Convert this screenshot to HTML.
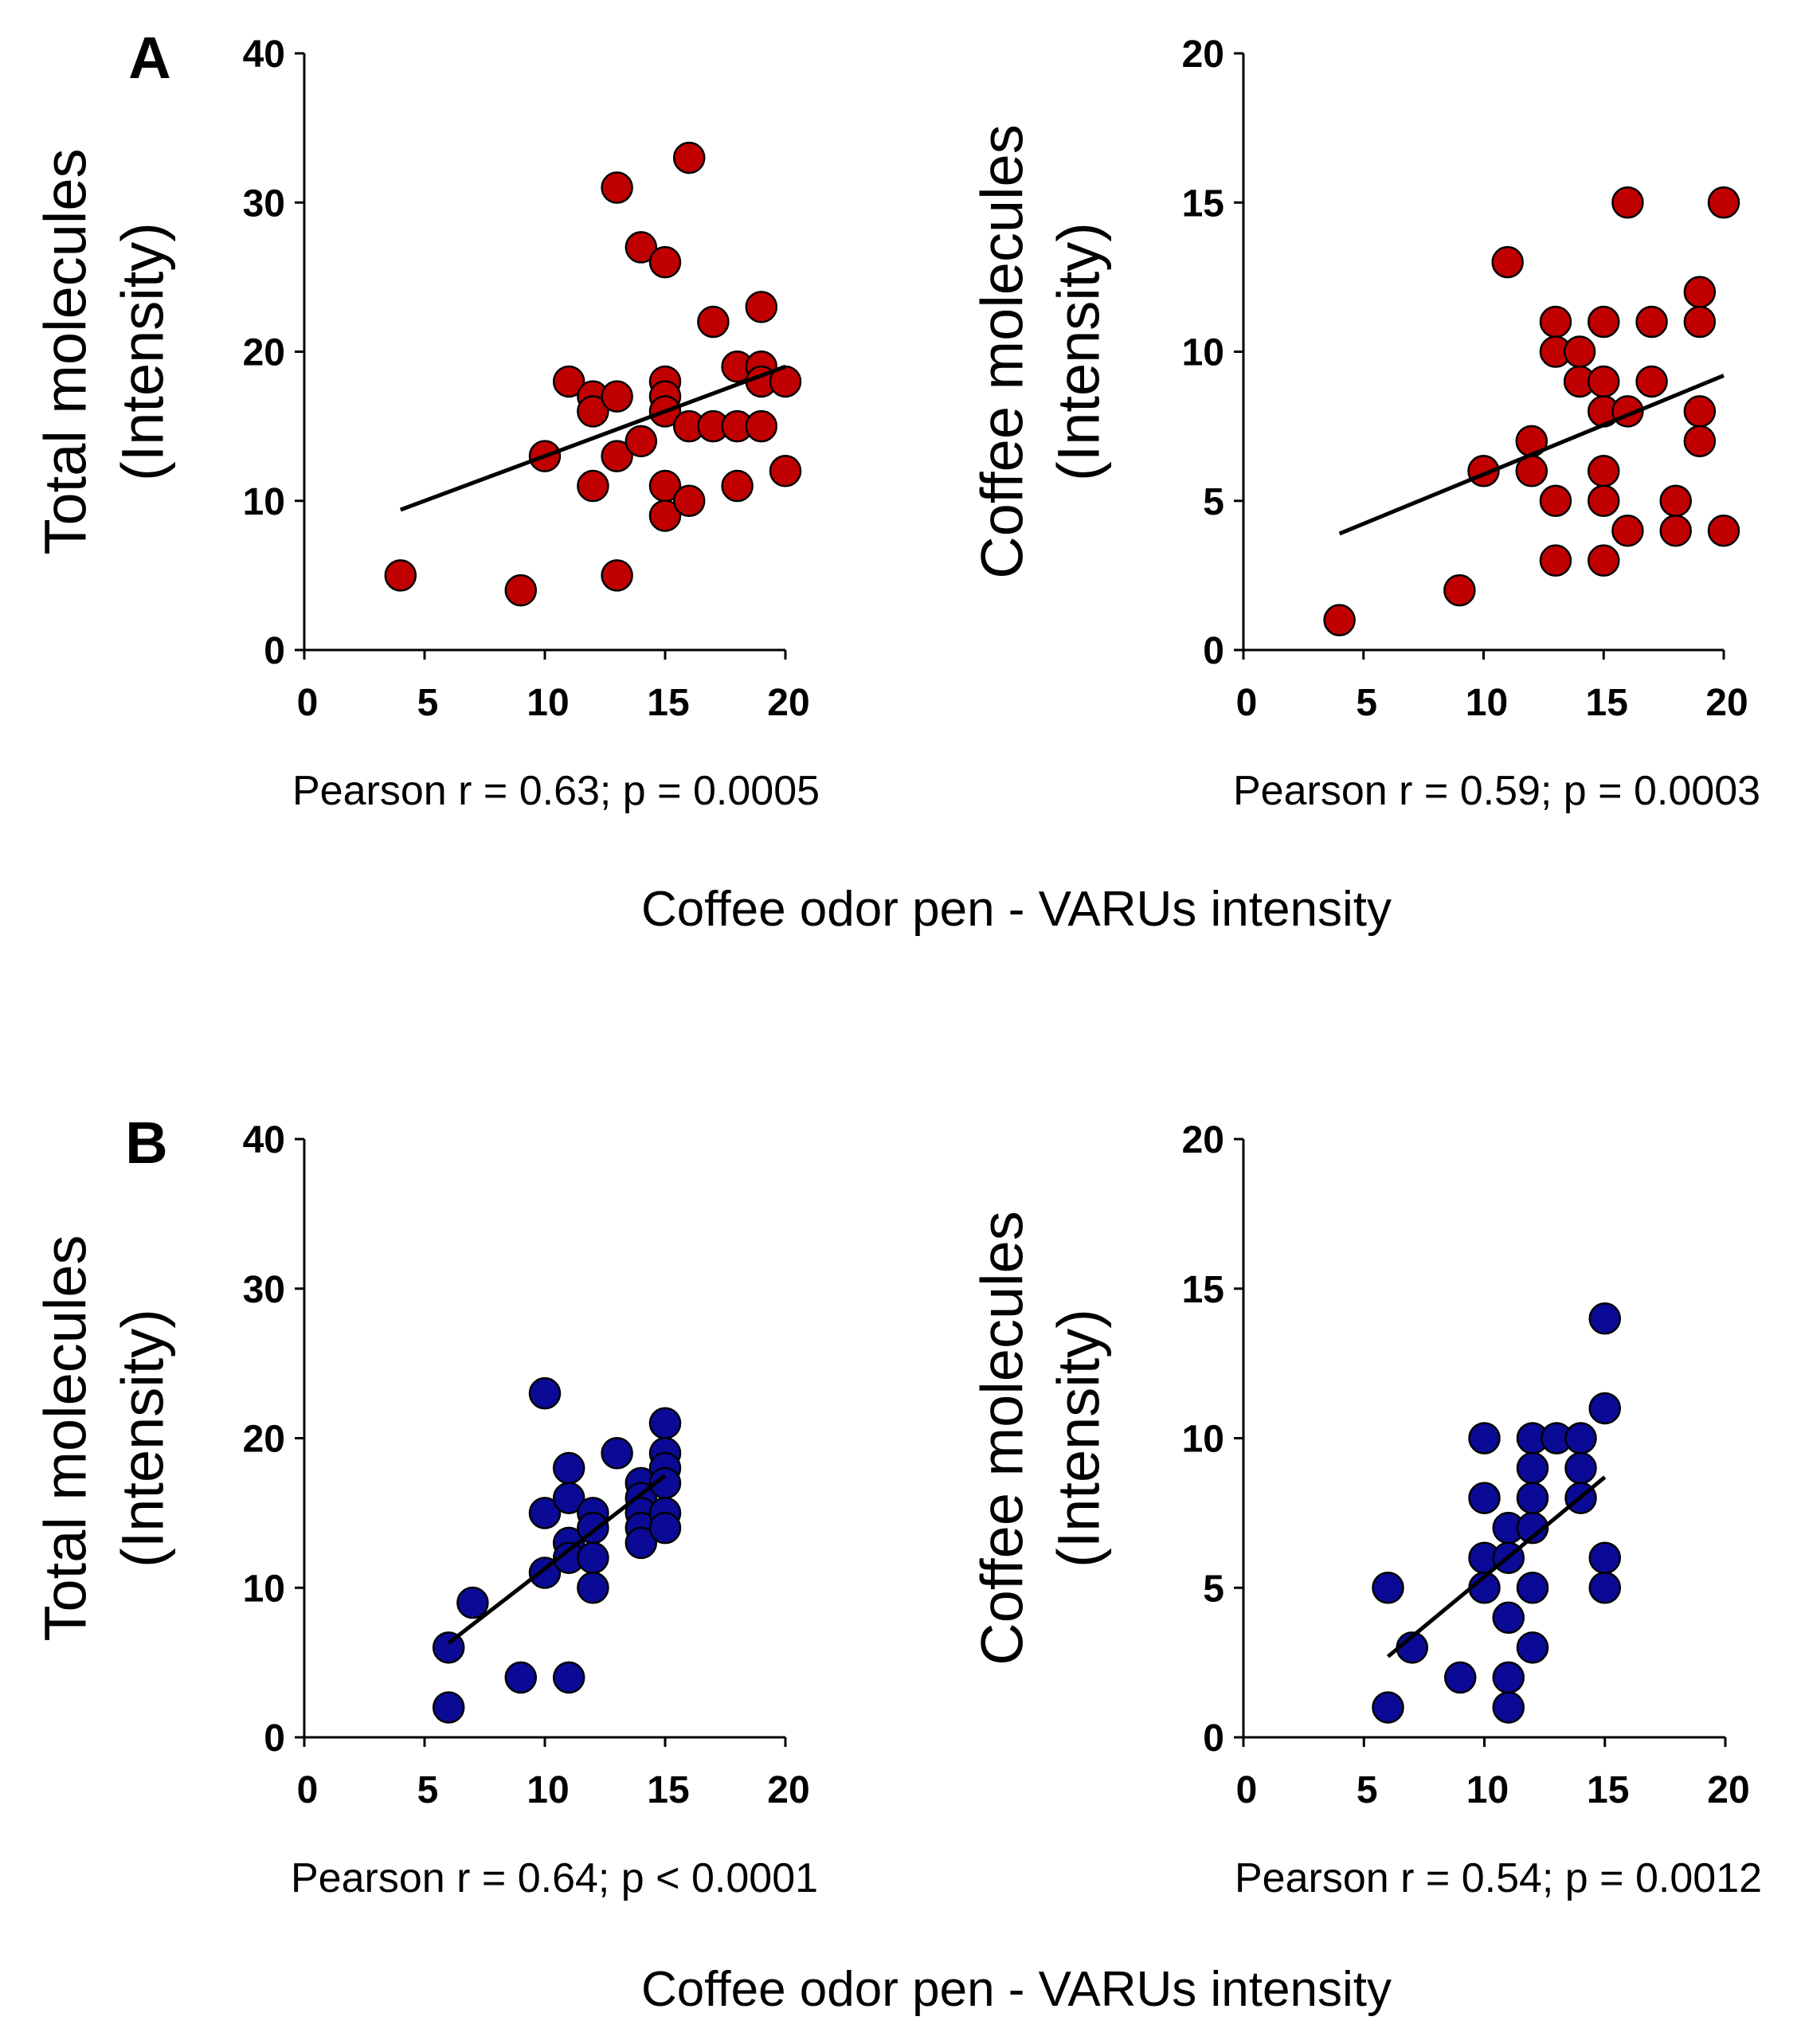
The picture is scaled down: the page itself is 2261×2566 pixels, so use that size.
<!DOCTYPE html>
<html><head><meta charset="utf-8"><style>
html,body{margin:0;padding:0;background:#fff;}
svg{display:block;font-family:"Liberation Sans",Arial,sans-serif;}
</style></head><body>
<svg id="fig" width="2261" height="2566" viewBox="0 0 2261 2566">
<text x="188" y="98" font-size="74" font-weight="bold" text-anchor="middle">A</text>
<text x="184" y="1460" font-size="74" font-weight="bold" text-anchor="middle">B</text>
<text x="1276" y="1162" font-size="62" text-anchor="middle">Coffee odor pen - VARUs intensity</text>
<text x="1276" y="2518" font-size="62" text-anchor="middle">Coffee odor pen - VARUs intensity</text>
</svg>
<script>
const xTicks=[0,5,10,15,20];
const yTicksTotal=[0,10,20,30,40];
const yTicksCoffee=[0,5,10,15,20];
const aTotalX=[4,9,10,11,12,12,12,13,13,13,13,14,14,15,15,15,15,15,15,16,16,16,17,17,18,18,18,19,19,19,19,20,20];
const aTotalY=[5,4,13,18,17,16,11,31,17,13,5,27,14,26,18,17,16,11,9,33,15,10,22,15,19,15,11,23,19,18,15,18,12];
const aTotalFit=[[4,9.4],[20,19]];
const aCoffeeX=[4,9,10,11,12,12,13,13,13,13,14,14,15,15,15,15,15,15,16,16,16,17,17,18,18,19,19,19,19,20,20];
const aCoffeeY=[1,2,6,13,7,6,11,10,5,3,10,9,11,9,8,6,5,3,15,8,4,11,9,5,4,12,11,8,7,15,4];
const aCoffeeFit=[[4,3.9],[20,9.2]];
const bTotalX=[6,6,7,9,10,10,10,11,11,11,11,11,12,12,12,12,13,14,14,14,14,14,15,15,15,15,15,15];
const bTotalY=[6,2,9,4,23,15,11,18,16,13,12,4,15,14,12,10,19,17,16,15,14,13,21,19,18,17,15,14];
const bTotalFit=[[6,6.3],[15,17.5]];
const bCoffeeX=[6,6,7,9,10,10,10,10,11,11,11,11,11,12,12,12,12,12,12,13,14,14,14,15,15,15,15];
const bCoffeeY=[5,1,3,2,10,8,6,5,7,6,4,2,1,10,9,8,7,5,3,10,10,9,8,14,11,6,5];
const bCoffeeFit=[[6,2.7],[15,8.7]];

const NS='http://www.w3.org/2000/svg';
const svg=document.getElementById('fig');
function mk(tag,attrs,parent){const e=document.createElementNS(NS,tag);for(const k in attrs)e.setAttribute(k,attrs[k]);(parent||svg).appendChild(e);return e;}

function panel(id,x0,x1,y0,y1,ymax,yTicks,xs,ys,fit,color,ylab1,ylab2,labX1,labX2,stat,statX){
  const g=mk('g',{});
  
  
  const sx=v=>x0+(x1-x0)*v/20;
  const sy=v=>y0-(y0-y1)*v/ymax;
  const ax=mk('path',{d:`M${x0},${y1} L${x0},${y0} L${x1},${y0}`,stroke:'#000','stroke-width':3,fill:'none'},g);
  
  
  yTicks.forEach(t=>{
    mk('line',{x1:x0-12,x2:x0,y1:sy(t),y2:sy(t),stroke:'#000','stroke-width':3},g);
    const tx=mk('text',{x:x0-24,y:sy(t)+17,'font-size':48,'font-weight':'bold','text-anchor':'end'},g);
    tx.textContent=t;
    
    
  });
  xTicks.forEach(t=>{
    mk('line',{x1:sx(t),x2:sx(t),y1:y0,y2:y0+12,stroke:'#000','stroke-width':3},g);
    const tx=mk('text',{x:sx(t)+4,y:y0+82,'font-size':48,'font-weight':'bold','text-anchor':'middle'},g);
    tx.textContent=t;
    
    
  });
  const cy=(y0+y1)/2;
  [[ylab1,labX1],[ylab2,labX2]].forEach(([s,lx])=>{
    const tx=mk('text',{x:lx,y:cy,'font-size':74,'text-anchor':'middle',transform:`rotate(-90 ${lx} ${cy})`,'dominant-baseline':'middle'},g);
    tx.textContent=s;
    
    
  });
  xs.forEach((v,i)=>{
    const c=mk('circle',{cx:sx(v),cy:sy(ys[i]),r:19,fill:color,stroke:'#000','stroke-width':2.5},g);
    
    
  });
  const ln=mk('line',{x1:sx(fit[0][0]),y1:sy(fit[0][1]),x2:sx(fit[1][0]),y2:sy(fit[1][1]),stroke:'#000','stroke-width':5},g);
  
  
  const st=mk('text',{x:statX,y:y0+194,'font-size':52},g);
  st.textContent=stat;
  
  
}
const red='#c00000', blue='#0a0a96';
panel('panel-a-total',382,986,816,67,40,yTicksTotal,aTotalX,aTotalY,aTotalFit,red,'Total molecules','(Intensity)',88,185,'Pearson r = 0.63; p = 0.0005',367);
panel('panel-a-coffee',1561,2164,816,67,20,yTicksCoffee,aCoffeeX,aCoffeeY,aCoffeeFit,red,'Coffee molecules','(Intensity)',1264,1360,'Pearson r = 0.59; p = 0.0003',1548);
panel('panel-b-total',382,986,2181,1430,40,yTicksTotal,bTotalX,bTotalY,bTotalFit,blue,'Total molecules','(Intensity)',88,185,'Pearson r = 0.64; p < 0.0001',365);
panel('panel-b-coffee',1561,2166,2181,1430,20,yTicksCoffee,bCoffeeX,bCoffeeY,bCoffeeFit,blue,'Coffee molecules','(Intensity)',1264,1360,'Pearson r = 0.54; p = 0.0012',1550);
</script>
</body></html>
